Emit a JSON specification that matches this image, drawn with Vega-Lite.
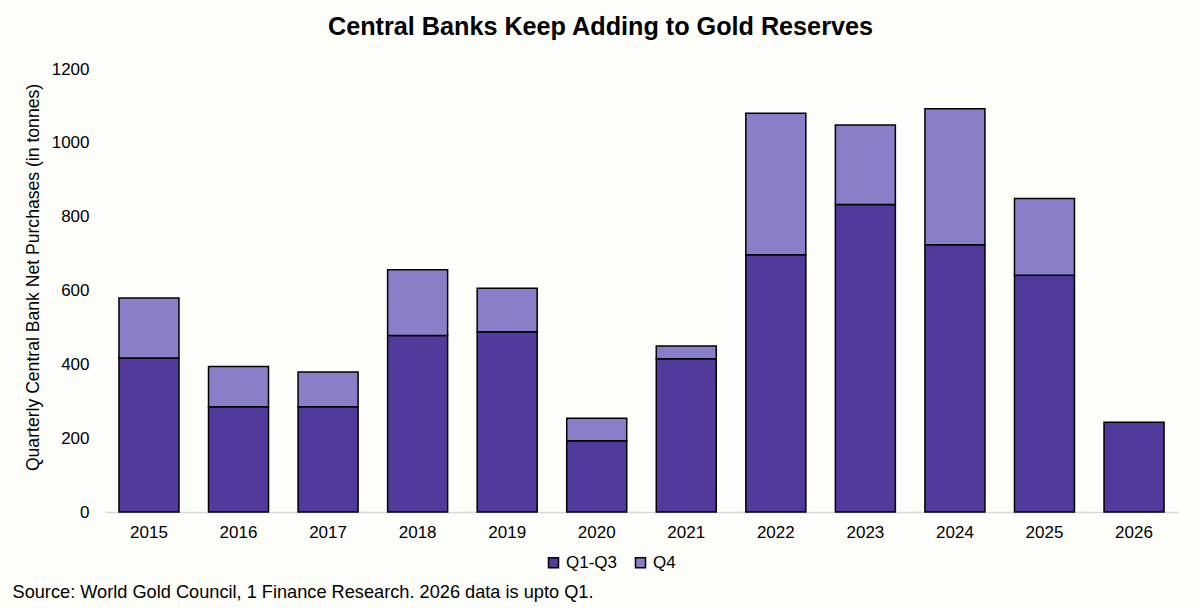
{
  "$schema": "https://vega.github.io/schema/vega-lite/v6.json",
  "width": 1073,
  "height": 443,
  "autosize": {"type": "none"},
  "padding": {"left": 105, "top": 69, "right": 22, "bottom": 96},
  "background": "#fdfdf9",
  "title": {
    "text": "Central Banks Keep Adding to Gold Reserves",
    "font": "Liberation Sans",
    "fontSize": 25.2,
    "fontWeight": "bold",
    "color": "#000000",
    "anchor": "middle",
    "dx": -41,
    "baseline": "alphabetic",
    "offset": 0
  },
  "data": {
    "values": [
      {"year": "2015", "period": "Q1-Q3", "tonnes": 417},
      {"year": "2015", "period": "Q4", "tonnes": 163},
      {"year": "2016", "period": "Q1-Q3", "tonnes": 285},
      {"year": "2016", "period": "Q4", "tonnes": 109},
      {"year": "2017", "period": "Q1-Q3", "tonnes": 285},
      {"year": "2017", "period": "Q4", "tonnes": 94},
      {"year": "2018", "period": "Q1-Q3", "tonnes": 478},
      {"year": "2018", "period": "Q4", "tonnes": 178},
      {"year": "2019", "period": "Q1-Q3", "tonnes": 488},
      {"year": "2019", "period": "Q4", "tonnes": 118},
      {"year": "2020", "period": "Q1-Q3", "tonnes": 193},
      {"year": "2020", "period": "Q4", "tonnes": 61},
      {"year": "2021", "period": "Q1-Q3", "tonnes": 415},
      {"year": "2021", "period": "Q4", "tonnes": 35},
      {"year": "2022", "period": "Q1-Q3", "tonnes": 697},
      {"year": "2022", "period": "Q4", "tonnes": 383},
      {"year": "2023", "period": "Q1-Q3", "tonnes": 833},
      {"year": "2023", "period": "Q4", "tonnes": 215},
      {"year": "2024", "period": "Q1-Q3", "tonnes": 724},
      {"year": "2024", "period": "Q4", "tonnes": 368},
      {"year": "2025", "period": "Q1-Q3", "tonnes": 641},
      {"year": "2025", "period": "Q4", "tonnes": 208},
      {"year": "2026", "period": "Q1-Q3", "tonnes": 243}
    ]
  },
  "mark": {"type": "bar", "stroke": "#000000", "strokeWidth": 1.5},
  "encoding": {
    "x": {
      "field": "year",
      "type": "ordinal",
      "scale": {"paddingInner": 0.33, "paddingOuter": 0.156},
      "axis": {
        "title": "Source: World Gold Council, 1 Finance Research. 2026 data is upto Q1.",
        "titleFont": "Liberation Sans",
        "titleFontSize": 18.2,
        "titleFontWeight": "normal",
        "titleColor": "#000000",
        "titleAnchor": "start",
        "titleAlign": "left",
        "titleBaseline": "alphabetic",
        "titleX": -93,
        "titleY": 85,
        "labelAngle": 0,
        "labelFont": "Liberation Sans",
        "labelFontSize": 17,
        "labelColor": "#000000",
        "labelPadding": 12,
        "ticks": false,
        "domainColor": "#d9d9d9",
        "domainWidth": 1.5,
        "grid": false
      }
    },
    "y": {
      "field": "tonnes",
      "type": "quantitative",
      "stack": "zero",
      "scale": {"domain": [0, 1200], "nice": false},
      "axis": {
        "title": "Quarterly Central Bank Net Purchases (in tonnes)",
        "titleFont": "Liberation Sans",
        "titleFontSize": 17.6,
        "titleFontWeight": "normal",
        "titleColor": "#000000",
        "titleAngle": 270,
        "titleAlign": "center",
        "titleBaseline": "middle",
        "titleX": -72,
        "titleY": 208,
        "values": [0, 200, 400, 600, 800, 1000, 1200],
        "format": "d",
        "labelFont": "Liberation Sans",
        "labelFontSize": 17,
        "labelColor": "#000000",
        "labelPadding": 16,
        "ticks": false,
        "domain": false,
        "grid": false
      }
    },
    "color": {
      "field": "period",
      "type": "nominal",
      "scale": {"domain": ["Q1-Q3", "Q4"], "range": ["#52399c", "#8a7ec8"]},
      "legend": {
        "title": null,
        "orient": "none",
        "direction": "horizontal",
        "legendX": 440,
        "legendY": 485,
        "padding": 0,
        "symbolType": "square",
        "symbolSize": 100,
        "symbolStrokeColor": "#000000",
        "symbolStrokeWidth": 1.5,
        "symbolOpacity": 1,
        "labelFont": "Liberation Sans",
        "labelFontSize": 17,
        "labelColor": "#000000",
        "labelOffset": 4,
        "columnPadding": 14
      }
    },
    "order": {"field": "period", "sort": "ascending"}
  },
  "config": {
    "view": {"stroke": null}
  }
}
